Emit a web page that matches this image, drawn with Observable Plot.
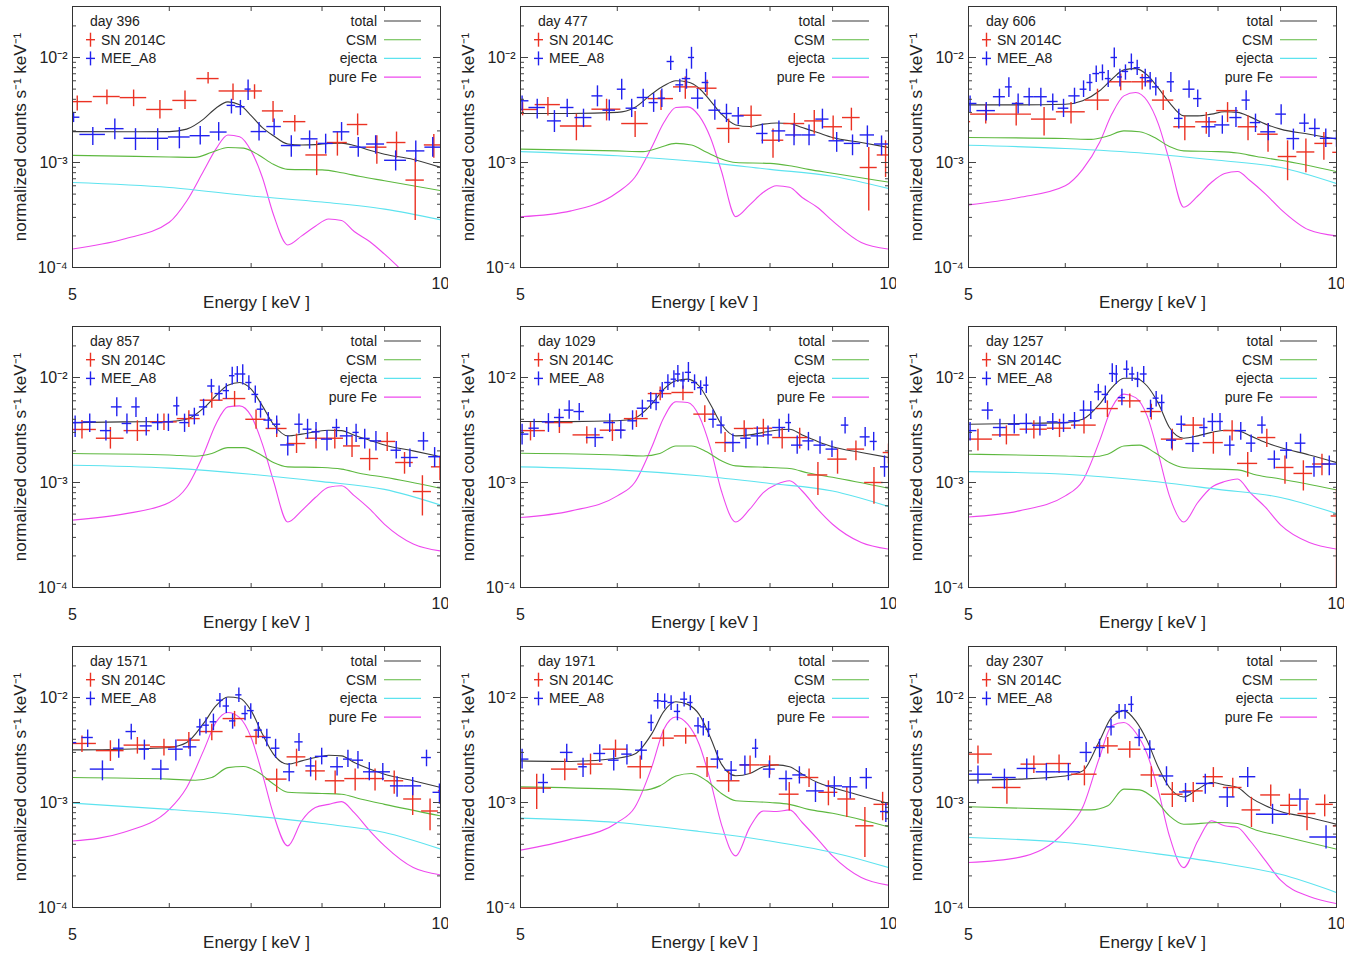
<!DOCTYPE html>
<html><head><meta charset="utf-8">
<script src="https://cdn.jsdelivr.net/npm/d3@7"></script>
<script src="https://cdn.jsdelivr.net/npm/@observablehq/plot@0.6"></script>
<style>
body{margin:0;background:#fff;font-family:"Liberation Sans",Arial,Helvetica,sans-serif;}
#grid{position:relative;width:1357px;height:955px;overflow:hidden;background:#fff;}
.panel{position:absolute;width:448px;height:320px;}
</style></head><body><div id="grid"></div>
<script>
// ---------- data ----------
const days = [396, 477, 606, 857, 1029, 1257, 1571, 1971, 2307];
const seriesNames = ["SN 2014C", "MEE_A8"];
const modelNames = ["total", "CSM", "ejecta", "pure Fe"];
const xTickValues = [6, 7, 8, 9];
const xTickLabels = [5, 10];
const yMajorTicks = [1e-4, 1e-3, 1e-2];
const yMinorTicks = [2e-4,3e-4,4e-4,5e-4,6e-4,7e-4,8e-4,9e-4,2e-3,3e-3,4e-3,5e-3,6e-3,7e-3,8e-3,9e-3,2e-2];
const xLabel = "Energy [ keV ]";
const yLabel = "normalized counts s\u207B\u00B9 keV\u207B\u00B9";

// model energy grids (keV)
const energyGrid = [5.0,5.5,6.0,6.2,6.4,6.55,6.7,6.85,7.0,7.15,7.3,7.5,7.7,7.9,8.1,8.3,8.5,8.75,9.0,9.5,10.0];
const csmGrid = [5,6,6.3,6.5,6.7,6.9,7.1,7.3,7.5,8,8.3,8.6,9,10];
const ejectaGrid = [5,6,7,8,9,10];

const totalModel = [
 [1.97e-3,1.96e-3,1.97e-3,2.08e-3,2.59e-3,3.29e-3,3.78e-3,3.54e-3,2.8e-3,2.15e-3,1.8e-3,1.5e-3,1.47e-3,1.48e-3,1.52e-3,1.53e-3,1.45e-3,1.31e-3,1.2e-3,1.07e-3,9.0e-4],
 [2.93e-3,2.93e-3,3.0e-3,3.34e-3,4.48e-3,5.37e-3,6.0e-3,5.85e-3,5.1e-3,3.87e-3,2.89e-3,2.28e-3,2.2e-3,2.32e-3,2.38e-3,2.35e-3,2.15e-3,1.93e-3,1.73e-3,1.55e-3,1.39e-3],
 [3.54e-3,3.54e-3,3.59e-3,3.87e-3,4.82e-3,6.21e-3,7.62e-3,7.84e-3,6.83e-3,5.1e-3,3.72e-3,2.78e-3,2.78e-3,2.89e-3,3.04e-3,3.0e-3,2.72e-3,2.32e-3,2.08e-3,1.86e-3,1.67e-3],
 [3.72e-3,3.78e-3,3.81e-3,4.0e-3,5.1e-3,6.7e-3,8.45e-3,8.96e-3,7.74e-3,5.37e-3,3.59e-3,2.78e-3,2.89e-3,3.04e-3,3.15e-3,3.12e-3,2.82e-3,2.53e-3,2.28e-3,2.0e-3,1.76e-3],
 [3.81e-3,3.8e-3,3.87e-3,4.1e-3,5.57e-3,7.74e-3,9.3e-3,9.64e-3,8.3e-3,5.57e-3,3.59e-3,2.78e-3,2.84e-3,3.0e-3,3.15e-3,3.22e-3,2.84e-3,2.46e-3,2.19e-3,1.93e-3,1.73e-3],
 [3.59e-3,3.65e-3,3.72e-3,4.0e-3,5.57e-3,8.0e-3,9.85e-3,9.85e-3,8.3e-3,5.66e-3,3.34e-3,2.64e-3,2.78e-3,3.0e-3,3.15e-3,3.12e-3,2.78e-3,2.4e-3,2.15e-3,1.83e-3,1.55e-3],
 [3.17e-3,3.22e-3,3.34e-3,3.72e-3,5.66e-3,8.3e-3,1.01e-2,9.85e-3,7.5e-3,4.48e-3,2.89e-3,2.32e-3,2.49e-3,2.68e-3,2.82e-3,2.78e-3,2.4e-3,2.08e-3,1.86e-3,1.61e-3,1.39e-3],
 [2.49e-3,2.46e-3,2.64e-3,2.89e-3,4.48e-3,7.37e-3,9.1e-3,8.6e-3,6.9e-3,4.16e-3,2.32e-3,1.8e-3,1.89e-3,2.19e-3,2.28e-3,2.19e-3,1.86e-3,1.55e-3,1.39e-3,1.16e-3,9.8e-4],
 [1.63e-3,1.67e-3,1.79e-3,2.0e-3,3.87e-3,6.53e-3,7.5e-3,5.99e-3,3.87e-3,2.15e-3,1.39e-3,1.13e-3,1.34e-3,1.55e-3,1.47e-3,1.39e-3,1.12e-3,9.3e-4,8.2e-4,7.2e-4,6.2e-4]
];
const feModel = [
 [1.5e-4,1.86e-4,2.7e-4,4.3e-4,8.3e-4,1.34e-3,1.83e-3,1.76e-3,1.29e-3,7.2e-4,3.2e-4,1.64e-4,2.0e-4,2.47e-4,2.9e-4,2.8e-4,2.2e-4,1.77e-4,1.34e-4,7.5e-5,4.8e-5],
 [3.04e-4,3.46e-4,5.18e-4,7.2e-4,1.39e-3,2.4e-3,3.34e-3,3.39e-3,2.78e-3,1.73e-3,8.3e-4,3.05e-4,3.95e-4,5.2e-4,6.0e-4,5.8e-4,4.64e-4,3.73e-4,2.78e-4,1.73e-4,1.5e-4],
 [3.95e-4,4.64e-4,6.0e-4,8.6e-4,1.55e-3,2.89e-3,4.31e-3,4.64e-3,3.87e-3,2.32e-3,1.04e-3,3.75e-4,4.8e-4,6.45e-4,7.85e-4,8.2e-4,6.7e-4,5.0e-4,3.6e-4,2.27e-4,2.0e-4],
 [4.38e-4,5.0e-4,6.45e-4,9.0e-4,1.86e-3,3.59e-3,5.25e-3,5.37e-3,4.31e-3,2.32e-3,1.04e-3,4.2e-4,5.4e-4,7.2e-4,9.0e-4,9.3e-4,7.5e-4,5.6e-4,4.0e-4,2.6e-4,2.23e-4],
 [4.64e-4,5.37e-4,7.46e-4,1.0e-3,2.15e-3,4.16e-3,5.87e-3,5.78e-3,4.31e-3,2.15e-3,8.3e-4,4.2e-4,5.57e-4,8.0e-4,9.6e-4,1.04e-3,8.3e-4,5.57e-4,4.0e-4,2.68e-4,2.32e-4],
 [4.7e-4,5.37e-4,7.46e-4,1.04e-3,2.49e-3,5.18e-3,6.95e-3,6.43e-3,4.31e-3,1.86e-3,7.46e-4,4.2e-4,6.45e-4,8.96e-4,1.02e-3,1.08e-3,8.0e-4,5.78e-4,3.95e-4,2.68e-4,2.32e-4],
 [4.3e-4,5.18e-4,8.6e-4,1.39e-3,3.12e-3,5.78e-3,7.2e-3,6.43e-3,4.16e-3,1.86e-3,7.74e-4,3.86e-4,6.7e-4,8.96e-4,9.6e-4,1.02e-3,8.0e-4,5.4e-4,3.86e-4,2.4e-4,2.05e-4],
 [3.52e-4,4.48e-4,6.45e-4,8.96e-4,2.15e-3,4.99e-3,6.53e-3,5.57e-3,3.59e-3,1.61e-3,6.2e-4,3.1e-4,5.8e-4,8.3e-4,8.2e-4,8.5e-4,6.45e-4,4.48e-4,3.1e-4,1.93e-4,1.63e-4],
 [2.68e-4,3.0e-4,5.37e-4,9.0e-4,2.7e-3,5.37e-3,5.78e-3,4.64e-3,2.89e-3,1.29e-3,4.8e-4,2.4e-4,4.3e-4,6.7e-4,6.0e-4,5.78e-4,4.3e-4,2.78e-4,1.82e-4,1.27e-4,1.09e-4]
];
const csmModel = [
 [1.17e-3,1.13e-3,1.12e-3,1.25e-3,1.39e-3,1.37e-3,1.18e-3,9.6e-4,8.6e-4,8.5e-4,8.0e-4,7.35e-4,6.7e-4,5.4e-4],
 [1.34e-3,1.29e-3,1.27e-3,1.39e-3,1.52e-3,1.47e-3,1.25e-3,1.08e-3,1.0e-3,9.8e-4,9.3e-4,8.6e-4,7.9e-4,6.5e-4],
 [1.73e-3,1.69e-3,1.66e-3,1.79e-3,2.0e-3,1.96e-3,1.73e-3,1.42e-3,1.29e-3,1.27e-3,1.23e-3,1.14e-3,1.05e-3,8.2e-4],
 [1.89e-3,1.83e-3,1.78e-3,1.89e-3,2.15e-3,2.15e-3,1.89e-3,1.55e-3,1.41e-3,1.39e-3,1.34e-3,1.22e-3,1.12e-3,8.8e-4],
 [1.9e-3,1.83e-3,1.79e-3,1.89e-3,2.23e-3,2.23e-3,1.96e-3,1.61e-3,1.44e-3,1.39e-3,1.36e-3,1.23e-3,1.12e-3,8.8e-4],
 [1.86e-3,1.79e-3,1.76e-3,1.86e-3,2.23e-3,2.27e-3,1.93e-3,1.55e-3,1.39e-3,1.34e-3,1.32e-3,1.18e-3,1.08e-3,8.5e-4],
 [1.73e-3,1.67e-3,1.63e-3,1.73e-3,2.15e-3,2.2e-3,1.93e-3,1.5e-3,1.25e-3,1.22e-3,1.2e-3,1.08e-3,9.6e-4,7.46e-4],
 [1.41e-3,1.34e-3,1.31e-3,1.44e-3,1.79e-3,1.89e-3,1.61e-3,1.22e-3,1.04e-3,1.0e-3,9.6e-4,8.6e-4,7.9e-4,5.86e-4],
 [9.1e-4,8.6e-4,8.5e-4,9.3e-4,1.34e-3,1.32e-3,1.08e-3,7.46e-4,6.2e-4,6.45e-4,6.3e-4,5.45e-4,4.82e-4,3.6e-4]
];
const ejectaModel = [
 [6.45e-4,5.78e-4,4.8e-4,4.2e-4,3.6e-4,2.85e-4],
 [1.27e-3,1.16e-3,1.02e-3,8.6e-4,7.4e-4,5.65e-4],
 [1.46e-3,1.36e-3,1.22e-3,1.05e-3,8.96e-4,6.3e-4],
 [1.46e-3,1.37e-3,1.2e-3,1.02e-3,8.6e-4,6.1e-4],
 [1.41e-3,1.32e-3,1.16e-3,9.8e-4,8.3e-4,5.9e-4],
 [1.27e-3,1.2e-3,1.04e-3,8.6e-4,7.2e-4,5.07e-4],
 [9.85e-4,8.6e-4,7.46e-4,6.3e-4,5.18e-4,3.6e-4],
 [7.1e-4,6.45e-4,5.3e-4,4.3e-4,3.34e-4,2.4e-4],
 [4.64e-4,4.16e-4,3.34e-4,2.68e-4,2.07e-4,1.39e-4]
];

// observed bins: [E low, E high, rate, rate low, rate high]
const snObs = [
 [[4.90,5.19,3.8e-3,3.1e-3,4.3e-3],[5.20,5.47,4.25e-3,3.55e-3,4.9e-3],[5.47,5.75,4.15e-3,3.4e-3,4.9e-3],[5.75,6.04,3.2e-3,2.6e-3,3.9e-3],[6.04,6.32,3.9e-3,3.2e-3,4.8e-3],[6.32,6.59,6.3e-3,5.6e-3,7.2e-3],[6.59,6.94,4.8e-3,3.9e-3,5.6e-3],[6.94,7.15,4.8e-3,4.0e-3,5.5e-3],[7.15,7.44,3.1e-3,2.4e-3,3.8e-3],[7.44,7.76,2.45e-3,1.95e-3,2.8e-3],[7.76,8.08,1.18e-3,7.5e-4,1.6e-3],[8.08,8.39,1.55e-3,1.15e-3,1.95e-3],[8.39,8.72,2.3e-3,1.8e-3,2.9e-3],[8.70,9.04,1.4e-3,9.6e-4,1.8e-3],[9.04,9.37,1.55e-3,1.1e-3,1.95e-3],[9.37,9.70,6.8e-4,2.8e-4,1.1e-3],[9.70,10.05,1.47e-3,1.1e-3,1.85e-3]],
 [[4.87,5.17,3.2e-3,2.78e-3,3.72e-3],[5.14,5.39,3.56e-3,2.78e-3,4.16e-3],[5.39,5.72,2.23e-3,1.61e-3,2.89e-3],[5.72,6.04,3.22e-3,2.49e-3,4.0e-3],[6.05,6.36,2.35e-3,1.73e-3,3.06e-3],[6.36,6.67,4.06e-3,3.12e-3,4.82e-3],[6.67,6.97,5.25e-3,4.0e-3,6.53e-3],[6.97,7.24,5.1e-3,4.31e-3,6.08e-3],[7.24,7.56,2.11e-3,1.52e-3,2.59e-3],[7.56,7.88,2.82e-3,2.12e-3,3.46e-3],[7.88,8.21,1.63e-3,1.1e-3,2.08e-3],[8.21,8.54,2.35e-3,1.73e-3,2.93e-3],[8.54,8.85,2.49e-3,1.86e-3,3.12e-3],[8.85,9.17,2.19e-3,1.63e-3,2.78e-3],[9.17,9.48,2.68e-3,2.0e-3,3.29e-3],[9.48,9.79,8.96e-4,3.46e-4,1.39e-3],[9.79,10.1,1.18e-3,7.2e-4,1.61e-3]],
 [[4.9,5.02,2.45e-3,2.1e-3,2.8e-3],[5.02,5.31,2.89e-3,2.32e-3,3.59e-3],[5.31,5.63,2.89e-3,2.23e-3,3.72e-3],[5.63,5.9,2.59e-3,1.79e-3,3.34e-3],[5.9,6.23,3.04e-3,2.32e-3,3.72e-3],[6.23,6.52,3.93e-3,3.12e-3,4.99e-3],[6.52,6.8,5.87e-3,4.82e-3,6.95e-3],[6.8,7.07,5.87e-3,4.9e-3,6.9e-3],[7.07,7.36,3.93e-3,3.12e-3,4.82e-3],[7.36,7.67,2.19e-3,1.61e-3,2.78e-3],[7.67,7.98,2.44e-3,1.86e-3,3.0e-3],[7.98,8.31,3.12e-3,2.4e-3,3.72e-3],[8.31,8.62,2.19e-3,1.61e-3,2.78e-3],[8.62,8.96,1.86e-3,1.25e-3,2.35e-3],[8.96,9.28,1.14e-3,6.7e-4,1.61e-3],[9.28,9.6,1.26e-3,8.0e-4,1.67e-3],[9.6,9.93,1.52e-3,1.05e-3,1.93e-3],[9.93,10.1,1.25e-3,1.1e-3,1.4e-3]],
 [[4.95,5.23,3.2e-3,2.6e-3,3.9e-3],[5.23,5.51,2.64e-3,2.08e-3,3.34e-3],[5.51,5.79,3.12e-3,2.46e-3,3.87e-3],[5.79,6.09,3.78e-3,3.12e-3,4.48e-3],[6.09,6.36,4.06e-3,3.34e-3,4.82e-3],[6.36,6.64,6.08e-3,5.1e-3,7.2e-3],[6.64,6.93,6.3e-3,5.25e-3,7.37e-3],[6.93,7.2,4.0e-3,3.22e-3,4.9e-3],[7.2,7.49,3.27e-3,2.68e-3,3.93e-3],[7.49,7.76,2.35e-3,1.89e-3,2.89e-3],[7.76,8.06,2.64e-3,2.08e-3,3.22e-3],[8.06,8.33,2.64e-3,2.08e-3,3.22e-3],[8.33,8.6,2.23e-3,1.73e-3,2.78e-3],[8.6,8.9,1.69e-3,1.29e-3,2.08e-3],[8.9,9.19,2.46e-3,1.97e-3,3.0e-3],[9.19,9.5,1.55e-3,1.2e-3,1.93e-3],[9.5,9.83,8.2e-4,4.8e-4,1.16e-3],[9.83,10.15,1.41e-3,1.04e-3,1.79e-3]],
 [[4.95,5.24,3.12e-3,2.49e-3,3.72e-3],[5.24,5.52,3.72e-3,2.93e-3,4.48e-3],[5.52,5.81,2.84e-3,2.32e-3,3.39e-3],[5.81,6.08,3.15e-3,2.46e-3,3.87e-3],[6.08,6.36,4.06e-3,3.34e-3,4.82e-3],[6.36,6.65,7.03e-3,6.0e-3,8.1e-3],[6.65,6.93,7.2e-3,6.0e-3,8.3e-3],[6.93,7.22,4.48e-3,3.72e-3,5.37e-3],[7.22,7.48,2.4e-3,1.93e-3,3.0e-3],[7.48,7.76,3.27e-3,2.64e-3,3.87e-3],[7.76,8.04,3.29e-3,2.68e-3,4.0e-3],[8.04,8.33,2.68e-3,2.08e-3,3.34e-3],[8.33,8.59,2.68e-3,2.08e-3,3.29e-3],[8.59,8.92,1.18e-3,7.5e-4,1.55e-3],[8.92,9.25,1.67e-3,1.2e-3,2.08e-3],[9.25,9.56,2.08e-3,1.61e-3,2.49e-3],[9.56,9.9,1.0e-3,6.2e-4,1.39e-3],[9.9,10.1,1.93e-3,1.5e-3,2.32e-3]],
 [[4.95,5.23,2.59e-3,2.0e-3,3.22e-3],[5.23,5.51,2.84e-3,2.28e-3,3.46e-3],[5.51,5.8,3.22e-3,2.59e-3,3.87e-3],[5.8,6.07,3.29e-3,2.68e-3,4.0e-3],[6.07,6.36,3.52e-3,2.89e-3,4.16e-3],[6.36,6.63,5.06e-3,4.16e-3,5.99e-3],[6.63,6.92,5.99e-3,5.1e-3,6.95e-3],[6.92,7.19,4.74e-3,3.93e-3,5.57e-3],[7.19,7.49,2.59e-3,2.0e-3,3.22e-3],[7.49,7.78,3.52e-3,2.78e-3,4.16e-3],[7.78,8.08,2.4e-3,1.86e-3,3.0e-3],[8.08,8.35,3.12e-3,2.49e-3,3.87e-3],[8.3,8.62,1.52e-3,1.12e-3,1.93e-3],[8.62,8.92,2.68e-3,2.15e-3,3.22e-3],[8.92,9.23,1.39e-3,9.6e-4,1.79e-3],[9.23,9.56,1.22e-3,8.3e-4,1.61e-3],[9.56,9.9,1.5e-3,1.16e-3,1.86e-3],[9.9,10.1,4.8e-4,5e-5,8.6e-4]],
 [[4.95,5.23,3.65e-3,3.0e-3,4.3e-3],[5.23,5.51,3.12e-3,2.46e-3,3.87e-3],[5.51,5.79,3.52e-3,2.89e-3,4.16e-3],[5.79,6.09,3.39e-3,2.78e-3,4.0e-3],[6.09,6.36,3.93e-3,3.22e-3,4.64e-3],[6.36,6.64,4.74e-3,3.87e-3,5.57e-3],[6.64,6.93,6.3e-3,5.25e-3,7.37e-3],[6.93,7.2,4.25e-3,3.54e-3,4.99e-3],[7.2,7.49,1.67e-3,1.25e-3,2.08e-3],[7.49,7.76,2.72e-3,2.19e-3,3.22e-3],[7.76,8.05,2.0e-3,1.61e-3,2.49e-3],[8.05,8.35,1.61e-3,1.2e-3,2.0e-3],[8.35,8.68,1.69e-3,1.29e-3,2.08e-3],[8.68,9.0,1.69e-3,1.29e-3,2.08e-3],[9.0,9.33,1.61e-3,1.2e-3,2.0e-3],[9.33,9.65,1.08e-3,7.5e-4,1.39e-3],[9.65,9.96,8.3e-4,5.37e-4,1.08e-3],[9.96,10.1,1.29e-3,1.0e-3,1.55e-3]],
 [[5.01,5.3,1.37e-3,8.6e-4,1.86e-3],[5.3,5.57,2.08e-3,1.61e-3,2.59e-3],[5.57,5.84,2.32e-3,1.83e-3,2.89e-3],[5.84,6.12,3.22e-3,2.68e-3,3.93e-3],[6.12,6.41,2.19e-3,1.67e-3,2.78e-3],[6.41,6.68,4.1e-3,3.39e-3,4.89e-3],[6.68,6.97,4.31e-3,3.59e-3,5.1e-3],[6.97,7.24,2.19e-3,1.73e-3,2.68e-3],[7.24,7.56,1.61e-3,1.25e-3,2.0e-3],[7.56,7.85,2.28e-3,1.86e-3,2.78e-3],[7.85,8.14,2.28e-3,1.83e-3,2.78e-3],[8.14,8.45,1.2e-3,8.3e-4,1.55e-3],[8.45,8.77,1.73e-3,1.39e-3,2.08e-3],[8.77,9.09,1.25e-3,9.3e-4,1.61e-3],[9.09,9.4,1.08e-3,7.2e-4,1.39e-3],[9.4,9.73,6.0e-4,3.0e-4,8.96e-4],[9.73,10.05,9.6e-4,6.7e-4,1.25e-3]],
 [[4.95,5.23,2.89e-3,2.32e-3,3.46e-3],[5.23,5.52,1.39e-3,9.6e-4,1.73e-3],[5.52,5.79,2.32e-3,1.89e-3,2.78e-3],[5.79,6.07,2.35e-3,1.89e-3,2.84e-3],[6.07,6.37,1.86e-3,1.44e-3,2.23e-3],[6.37,6.63,3.46e-3,2.89e-3,4.16e-3],[6.63,6.92,3.22e-3,2.64e-3,3.81e-3],[6.92,7.19,1.83e-3,1.39e-3,2.19e-3],[7.19,7.49,1.2e-3,8.96e-4,1.55e-3],[7.49,7.78,1.29e-3,1.0e-3,1.55e-3],[7.78,8.08,1.76e-3,1.39e-3,2.15e-3],[8.08,8.37,1.39e-3,1.12e-3,1.7e-3],[8.37,8.67,8.5e-4,5.78e-4,1.12e-3],[8.67,9.0,1.18e-3,9.1e-4,1.47e-3],[9.0,9.3,9.4e-4,7.5e-4,1.2e-3],[9.3,9.62,7.85e-4,5.37e-4,1.04e-3],[9.62,9.94,9.6e-4,7.3e-4,1.18e-3],[9.94,10.1,6.0e-4,5e-4,7e-4]]
];
const meeObs = [
 [[4.95,5.07,2.7e-3,2.4e-3,3.0e-3],[5.07,5.32,1.85e-3,1.45e-3,2.15e-3],[5.32,5.51,2.1e-3,1.65e-3,2.6e-3],[5.51,5.75,1.7e-3,1.3e-3,2.1e-3],[5.75,5.99,1.7e-3,1.3e-3,2.1e-3],[5.99,6.24,1.75e-3,1.35e-3,2.15e-3],[6.24,6.48,1.8e-3,1.47e-3,2.2e-3],[6.48,6.69,1.95e-3,1.6e-3,2.4e-3],[6.69,6.8,3.5e-3,2.9e-3,4.0e-3],[6.8,6.92,3.4e-3,2.8e-3,3.9e-3],[6.92,7.0,5.0e-3,3.9e-3,6.1e-3],[7.0,7.21,1.97e-3,1.6e-3,2.4e-3],[7.21,7.41,2.2e-3,1.8e-3,2.6e-3],[7.41,7.69,1.45e-3,1.12e-3,1.8e-3],[7.69,7.94,1.68e-3,1.34e-3,2.0e-3],[7.94,8.17,1.52e-3,1.2e-3,1.86e-3],[8.17,8.43,1.96e-3,1.6e-3,2.4e-3],[8.43,8.7,1.4e-3,1.12e-3,1.73e-3],[8.7,9.0,1.5e-3,1.2e-3,1.8e-3],[9.0,9.38,1.05e-3,8.3e-4,1.29e-3],[9.38,9.71,1.29e-3,1.0e-3,1.6e-3],[9.71,10.0,1.4e-3,1.12e-3,1.73e-3]],
 [[4.95,5.08,3.87e-3,3.1e-3,4.3e-3],[5.08,5.24,3.34e-3,2.59e-3,4.0e-3],[5.26,5.40,2.49e-3,1.93e-3,3.12e-3],[5.39,5.53,3.34e-3,2.68e-3,4.0e-3],[5.54,5.72,2.68e-3,2.15e-3,3.22e-3],[5.72,5.84,4.31e-3,3.39e-3,5.37e-3],[5.84,5.98,3.15e-3,2.49e-3,3.93e-3],[6.0,6.1,4.99e-3,3.93e-3,6.21e-3],[6.1,6.23,3.29e-3,2.68e-3,4.0e-3],[6.23,6.37,4.16e-3,3.34e-3,4.99e-3],[6.37,6.48,3.72e-3,3.0e-3,4.53e-3],[6.48,6.57,4.1e-3,3.34e-3,5.0e-3],[6.59,6.68,9.16e-3,7.5e-3,1.03e-2],[6.70,6.80,5.49e-3,4.64e-3,6.21e-3],[6.78,6.89,6.3e-3,4.99e-3,7.74e-3],[6.86,6.94,1.0e-2,7.74e-3,1.25e-2],[6.90,7.06,4.1e-3,3.22e-3,5.0e-3],[7.04,7.13,5.78e-3,4.64e-3,7.2e-3],[7.13,7.29,3.15e-3,2.53e-3,3.93e-3],[7.29,7.45,2.93e-3,2.4e-3,3.59e-3],[7.45,7.62,2.78e-3,2.28e-3,3.34e-3],[7.80,7.97,1.89e-3,1.5e-3,2.32e-3],[8.03,8.24,2.0e-3,1.55e-3,2.49e-3],[8.24,8.5,1.83e-3,1.44e-3,2.32e-3],[8.5,8.72,1.83e-3,1.44e-3,2.28e-3],[8.72,8.94,2.59e-3,2.08e-3,3.22e-3],[8.94,9.2,1.61e-3,1.25e-3,1.93e-3],[9.2,9.49,1.52e-3,1.16e-3,1.83e-3],[9.48,9.74,1.83e-3,1.39e-3,2.23e-3],[9.74,10.0,1.5e-3,1.16e-3,1.79e-3]],
 [[4.95,5.08,3.65e-3,3.0e-3,4.3e-3],[5.08,5.26,3.12e-3,2.49e-3,3.72e-3],[5.24,5.36,4.23e-3,3.39e-3,4.99e-3],[5.36,5.43,5.25e-3,4.16e-3,6.4e-3],[5.43,5.55,3.65e-3,2.89e-3,4.48e-3],[5.55,5.66,4.23e-3,3.46e-3,5.1e-3],[5.66,5.8,4.23e-3,3.39e-3,5.1e-3],[5.8,5.92,3.81e-3,3.1e-3,4.48e-3],[5.92,6.04,3.29e-3,2.68e-3,4.0e-3],[6.04,6.17,4.31e-3,3.59e-3,5.1e-3],[6.17,6.25,4.99e-3,4.16e-3,5.99e-3],[6.25,6.32,5.78e-3,4.74e-3,6.9e-3],[6.32,6.4,7.03e-3,5.78e-3,8.3e-3],[6.4,6.47,7.2e-3,6.0e-3,8.5e-3],[6.47,6.54,6.3e-3,5.18e-3,7.5e-3],[6.54,6.62,1.0e-2,8.0e-3,1.23e-2],[6.62,6.68,6.53e-3,5.25e-3,7.74e-3],[6.68,6.76,7.37e-3,6.08e-3,8.5e-3],[6.76,6.83,8.96e-3,7.5e-3,1.08e-2],[6.83,6.91,8.0e-3,6.75e-3,9.4e-3],[6.91,7.04,6.43e-3,5.25e-3,7.74e-3],[7.0,7.08,6.0e-3,4.9e-3,7.2e-3],[7.07,7.16,5.25e-3,4.31e-3,6.4e-3],[7.27,7.37,5.87e-3,4.64e-3,7.2e-3],[7.37,7.49,2.63e-3,2.08e-3,3.22e-3],[7.49,7.66,4.99e-3,4.1e-3,5.99e-3],[7.64,7.76,4.06e-3,3.34e-3,4.9e-3],[7.76,7.97,2.19e-3,1.73e-3,2.68e-3],[7.95,8.18,2.28e-3,1.86e-3,2.78e-3],[8.18,8.37,2.68e-3,2.15e-3,3.34e-3],[8.37,8.5,3.93e-3,3.12e-3,4.82e-3],[8.5,8.67,2.4e-3,1.93e-3,2.89e-3],[8.67,8.92,1.96e-3,1.61e-3,2.35e-3],[8.92,9.1,2.89e-3,2.28e-3,3.54e-3],[9.11,9.33,1.69e-3,1.31e-3,2.08e-3],[9.33,9.5,2.37e-3,1.93e-3,2.89e-3],[9.5,9.7,2.11e-3,1.73e-3,2.59e-3],[9.7,9.9,1.7e-3,1.39e-3,2.08e-3],[9.9,10.1,1.7e-3,1.4e-3,2.0e-3]],
 [[4.95,5.1,3.72e-3,2.68e-3,4.3e-3],[5.1,5.23,3.78e-3,3.0e-3,4.48e-3],[5.27,5.38,3.12e-3,2.49e-3,3.87e-3],[5.38,5.49,5.25e-3,4.23e-3,6.4e-3],[5.49,5.59,3.65e-3,2.89e-3,4.48e-3],[5.59,5.68,5.25e-3,4.16e-3,6.4e-3],[5.68,5.81,3.46e-3,2.78e-3,4.16e-3],[5.81,5.93,3.72e-3,3.12e-3,4.48e-3],[5.93,6.05,3.78e-3,3.06e-3,4.48e-3],[6.05,6.12,5.37e-3,4.31e-3,6.5e-3],[6.12,6.23,3.72e-3,3.0e-3,4.48e-3],[6.23,6.35,4.38e-3,3.54e-3,5.1e-3],[6.35,6.45,5.25e-3,4.31e-3,6.2e-3],[6.45,6.54,8.3e-3,7.1e-3,9.6e-3],[6.54,6.64,7.03e-3,5.99e-3,8.3e-3],[6.64,6.72,7.5e-3,6.2e-3,8.7e-3],[6.72,6.79,1.04e-2,8.5e-3,1.25e-2],[6.79,6.85,1.08e-2,8.96e-3,1.27e-2],[6.85,6.93,1.08e-2,8.5e-3,1.32e-2],[6.93,7.01,8.96e-3,7.5e-3,1.04e-2],[7.01,7.1,6.9e-3,5.7e-3,8.3e-3],[7.08,7.17,4.99e-3,4.1e-3,5.87e-3],[7.17,7.29,3.93e-3,3.22e-3,4.64e-3],[7.29,7.4,3.59e-3,2.89e-3,4.3e-3],[7.4,7.6,2.28e-3,1.79e-3,2.78e-3],[7.6,7.72,3.59e-3,2.89e-3,4.48e-3],[7.72,7.85,3.22e-3,2.59e-3,4.0e-3],[7.85,7.97,3.04e-3,2.49e-3,3.72e-3],[7.99,8.16,2.59e-3,2.0e-3,3.12e-3],[8.16,8.28,3.34e-3,2.68e-3,4.0e-3],[8.28,8.48,2.78e-3,2.23e-3,3.34e-3],[8.48,8.58,3.0e-3,2.4e-3,3.59e-3],[8.58,8.76,2.63e-3,2.08e-3,3.22e-3],[8.76,8.95,2.49e-3,2.0e-3,3.06e-3],[9.11,9.29,2.03e-3,1.67e-3,2.46e-3],[9.29,9.59,1.73e-3,1.39e-3,2.08e-3],[9.59,9.78,2.49e-3,2.0e-3,3.0e-3],[9.78,10.0,1.76e-3,1.39e-3,2.15e-3]],
 [[4.95,5.08,2.89e-3,2.28e-3,3.59e-3],[5.08,5.18,3.29e-3,2.68e-3,4.0e-3],[5.21,5.33,3.78e-3,3.0e-3,4.53e-3],[5.33,5.43,4.16e-3,3.34e-3,4.99e-3],[5.43,5.53,4.89e-3,4.0e-3,6.0e-3],[5.53,5.64,4.74e-3,3.87e-3,5.66e-3],[5.66,5.85,2.68e-3,2.15e-3,3.29e-3],[5.85,5.98,3.72e-3,3.0e-3,4.48e-3],[5.98,6.1,3.15e-3,2.59e-3,3.87e-3],[6.12,6.23,3.87e-3,3.15e-3,4.82e-3],[6.23,6.35,5.1e-3,4.16e-3,6.08e-3],[6.35,6.43,5.99e-3,4.99e-3,7.2e-3],[6.41,6.5,5.78e-3,4.82e-3,6.95e-3],[6.5,6.56,7.5e-3,6.36e-3,8.96e-3],[6.56,6.64,8.96e-3,7.5e-3,1.06e-2],[6.64,6.71,9.64e-3,8.0e-3,1.16e-2],[6.69,6.76,1.08e-2,8.96e-3,1.3e-2],[6.76,6.82,9.3e-3,7.74e-3,1.12e-2],[6.82,6.9,1.12e-2,8.96e-3,1.39e-2],[6.9,6.98,8.96e-3,7.5e-3,1.06e-2],[6.98,7.06,8.0e-3,6.75e-3,9.3e-3],[7.06,7.13,8.45e-3,7.03e-3,1.01e-2],[7.13,7.24,4.0e-3,3.29e-3,4.9e-3],[7.24,7.35,3.52e-3,2.89e-3,4.23e-3],[7.35,7.57,2.4e-3,1.93e-3,2.89e-3],[7.57,7.72,2.64e-3,2.08e-3,3.22e-3],[7.72,7.9,2.78e-3,2.23e-3,3.39e-3],[7.9,8.04,2.84e-3,2.28e-3,3.46e-3],[8.04,8.24,3.34e-3,2.68e-3,4.0e-3],[8.24,8.33,3.72e-3,3.0e-3,4.48e-3],[8.33,8.51,2.27e-3,1.86e-3,2.78e-3],[8.51,8.69,2.49e-3,2.0e-3,3.0e-3],[8.69,8.89,2.27e-3,1.86e-3,2.72e-3],[8.89,9.09,2.08e-3,1.73e-3,2.49e-3],[9.15,9.28,3.52e-3,2.89e-3,4.16e-3],[9.48,9.66,2.72e-3,2.19e-3,3.34e-3],[9.66,9.79,2.46e-3,2.0e-3,3.0e-3],[9.85,10.0,1.41e-3,1.12e-3,1.79e-3]],
 [[4.95,5.08,3.12e-3,2.49e-3,3.72e-3],[5.13,5.24,4.89e-3,3.93e-3,5.78e-3],[5.24,5.37,3.34e-3,2.68e-3,4.0e-3],[5.39,5.51,3.59e-3,2.89e-3,4.41e-3],[5.51,5.64,3.65e-3,2.89e-3,4.48e-3],[5.64,5.8,3.52e-3,2.78e-3,4.23e-3],[5.8,5.92,3.78e-3,3.12e-3,4.53e-3],[5.92,6.04,3.72e-3,3.0e-3,4.48e-3],[6.04,6.17,3.87e-3,3.22e-3,4.64e-3],[6.17,6.25,4.89e-3,3.93e-3,5.99e-3],[6.25,6.34,4.89e-3,3.99e-3,5.9e-3],[6.34,6.43,7.3e-3,6.0e-3,8.6e-3],[6.43,6.51,6.9e-3,5.66e-3,8.3e-3],[6.52,6.59,1.09e-2,8.96e-3,1.35e-2],[6.58,6.63,1.08e-2,8.6e-3,1.3e-2],[6.63,6.72,6.43e-3,5.37e-3,7.74e-3],[6.7,6.77,1.2e-2,9.85e-3,1.44e-2],[6.77,6.84,1.08e-2,9.16e-3,1.25e-2],[6.84,6.91,9.64e-3,8.0e-3,1.12e-2],[6.91,7.0,1.08e-2,8.96e-3,1.27e-2],[7.0,7.09,5.06e-3,4.16e-3,6.08e-3],[7.08,7.16,6.36e-3,5.25e-3,7.37e-3],[7.15,7.24,5.78e-3,4.74e-3,6.83e-3],[7.26,7.4,2.53e-3,2.08e-3,3.12e-3],[7.4,7.53,3.59e-3,3.0e-3,4.3e-3],[7.53,7.73,2.35e-3,1.93e-3,2.78e-3],[7.73,7.85,3.34e-3,2.68e-3,4.1e-3],[7.85,7.98,3.81e-3,3.06e-3,4.53e-3],[7.98,8.08,3.81e-3,3.12e-3,4.53e-3],[8.1,8.26,2.27e-3,1.79e-3,2.78e-3],[8.26,8.44,3.12e-3,2.53e-3,3.72e-3],[8.44,8.59,2.37e-3,1.93e-3,2.84e-3],[8.62,8.76,3.52e-3,2.89e-3,4.23e-3],[8.79,9.0,1.67e-3,1.34e-3,2.0e-3],[9.0,9.2,2.03e-3,1.67e-3,2.4e-3],[9.25,9.44,2.37e-3,1.93e-3,2.89e-3],[9.44,9.73,1.41e-3,1.12e-3,1.73e-3],[9.73,10.0,1.5e-3,1.16e-3,1.79e-3]],
 [[4.95,5.04,3.72e-3,3.0e-3,4.3e-3],[5.09,5.2,4.16e-3,3.34e-3,4.9e-3],[5.17,5.41,2.08e-3,1.61e-3,2.49e-3],[5.4,5.51,3.29e-3,2.64e-3,4.0e-3],[5.53,5.64,4.74e-3,3.93e-3,5.57e-3],[5.67,5.78,3.22e-3,2.53e-3,3.93e-3],[5.81,6.0,2.08e-3,1.63e-3,2.53e-3],[5.99,6.16,3.22e-3,2.49e-3,3.93e-3],[6.16,6.32,3.39e-3,2.72e-3,4.1e-3],[6.32,6.39,5.25e-3,4.31e-3,6.21e-3],[6.39,6.47,5.45e-3,4.48e-3,6.43e-3],[6.48,6.56,5.87e-3,4.82e-3,6.95e-3],[6.56,6.64,9.43e-3,8.0e-3,1.09e-2],[6.64,6.72,8.3e-3,7.03e-3,9.85e-3],[6.72,6.8,5.99e-3,4.99e-3,6.95e-3],[6.8,6.88,1.06e-2,8.96e-3,1.23e-2],[6.88,6.96,7.03e-3,5.99e-3,8.3e-3],[6.95,7.04,7.5e-3,6.21e-3,8.7e-3],[7.04,7.15,4.89e-3,4.1e-3,5.78e-3],[7.15,7.27,4.16e-3,3.39e-3,4.99e-3],[7.27,7.39,3.29e-3,2.64e-3,4.0e-3],[7.44,7.6,1.96e-3,1.58e-3,2.35e-3],[7.6,7.72,3.78e-3,3.06e-3,4.53e-3],[7.76,7.9,2.23e-3,1.75e-3,2.68e-3],[7.9,8.09,2.75e-3,2.28e-3,3.29e-3],[8.13,8.33,2.19e-3,1.79e-3,2.68e-3],[8.33,8.47,2.59e-3,2.15e-3,3.15e-3],[8.47,8.65,2.53e-3,2.08e-3,3.06e-3],[8.65,8.84,1.96e-3,1.61e-3,2.4e-3],[8.84,9.1,1.96e-3,1.61e-3,2.35e-3],[9.1,9.33,1.44e-3,1.12e-3,1.76e-3],[9.33,9.65,1.44e-3,1.16e-3,1.73e-3],[9.65,9.83,2.68e-3,2.19e-3,3.15e-3],[9.86,10.1,1.25e-3,9.6e-4,1.5e-3]],
 [[4.95,5.08,2.59e-3,2.08e-3,3.22e-3],[5.17,5.27,1.55e-3,1.22e-3,1.86e-3],[5.39,5.52,3.0e-3,2.4e-3,3.59e-3],[5.58,5.67,2.19e-3,1.73e-3,2.64e-3],[5.74,5.87,2.93e-3,2.4e-3,3.54e-3],[5.9,6.02,2.53e-3,2.0e-3,3.12e-3],[6.05,6.17,2.89e-3,2.28e-3,3.54e-3],[6.21,6.35,3.15e-3,2.53e-3,3.81e-3],[6.36,6.43,5.78e-3,4.74e-3,6.83e-3],[6.43,6.52,9.3e-3,7.74e-3,1.09e-2],[6.52,6.6,9.2e-3,7.74e-3,1.08e-2],[6.6,6.68,8.96e-3,7.5e-3,1.04e-2],[6.68,6.76,7.37e-3,6.0e-3,8.6e-3],[6.76,6.85,9.64e-3,8.1e-3,1.12e-2],[6.85,6.92,8.96e-3,7.5e-3,1.04e-2],[6.94,7.03,5.37e-3,4.48e-3,6.43e-3],[7.02,7.09,5.25e-3,4.31e-3,6.3e-3],[7.09,7.16,4.99e-3,4.16e-3,5.9e-3],[7.16,7.33,2.59e-3,2.08e-3,3.12e-3],[7.35,7.52,2.03e-3,1.61e-3,2.46e-3],[7.56,7.7,2.28e-3,1.83e-3,2.78e-3],[7.74,7.83,3.29e-3,2.64e-3,4.0e-3],[7.9,8.08,2.08e-3,1.7e-3,2.49e-3],[8.14,8.35,1.69e-3,1.29e-3,2.0e-3],[8.35,8.56,1.83e-3,1.5e-3,2.19e-3],[8.57,8.86,1.29e-3,1.0e-3,1.55e-3],[8.89,9.17,1.44e-3,1.12e-3,1.76e-3],[9.17,9.44,1.41e-3,1.08e-3,1.73e-3],[9.48,9.7,1.73e-3,1.34e-3,2.11e-3],[9.85,10.05,8.2e-4,6.45e-4,1.0e-3]],
 [[4.95,5.23,1.86e-3,1.5e-3,2.23e-3],[5.23,5.47,1.73e-3,1.34e-3,2.08e-3],[5.48,5.68,2.11e-3,1.67e-3,2.59e-3],[5.68,5.9,1.96e-3,1.61e-3,2.35e-3],[5.9,6.17,1.96e-3,1.61e-3,2.35e-3],[6.17,6.31,3.0e-3,2.4e-3,3.72e-3],[6.33,6.47,3.34e-3,2.68e-3,4.0e-3],[6.49,6.59,5.25e-3,4.31e-3,6.21e-3],[6.6,6.68,7.37e-3,6.21e-3,8.6e-3],[6.67,6.76,7.5e-3,6.21e-3,8.6e-3],[6.76,6.83,8.6e-3,7.2e-3,1.02e-2],[6.84,6.95,4.16e-3,3.39e-3,4.99e-3],[6.96,7.11,3.22e-3,2.59e-3,3.87e-3],[7.16,7.36,1.79e-3,1.44e-3,2.19e-3],[7.44,7.61,1.26e-3,1.0e-3,1.52e-3],[7.68,7.94,1.52e-3,1.2e-3,1.86e-3],[8.02,8.26,1.13e-3,8.96e-4,1.39e-3],[8.33,8.59,1.76e-3,1.39e-3,2.15e-3],[8.6,9.13,7.74e-4,6.2e-4,9.6e-4],[9.17,9.5,1.08e-3,8.3e-4,1.34e-3],[9.51,10.1,4.7e-4,3.6e-4,6.0e-4]]
];

// ---------- styles ----------
const C = {sn:"#eb3223", mee:"#2121ef", total:"#3a3a3a", csm:"#5db83f", ejecta:"#5de3ef", fe:"#ee48ee"};
const modelColors = [C.total, C.csm, C.ejecta, C.fe];
const font = '"Liberation Sans", Arial, Helvetica, sans-serif';
const W = 448, H = 320, M = {l:72, r:8, t:6, b:53};
const yTop = 0.0306;

const supMap = {"-":"\u207B","0":"\u2070","1":"\u00B9","2":"\u00B2","3":"\u00B3","4":"\u2074","5":"\u2075","6":"\u2076","7":"\u2077","8":"\u2078","9":"\u2079"};
const sup = n => String(n).split("").map(c => supMap[c]).join("");
const toObs = arr => arr.map(d => ({x1:d[0], x2:d[1], xc:(d[0]+d[1])/2, y:d[2], y1:d[3], y2:d[4]}));
const toLine = (grid, vals) => grid.map((x, j) => ({x, y: vals[j]}));

function makePanel(i) {
  const sn = toObs(snObs[i]), mee = toObs(meeObs[i]);
  const lineOpts = stroke => ({x:"x", y:"y", stroke, strokeWidth:1.1, curve:"monotone-x", clip:true});
  const errH = (data, stroke) => Plot.ruleY(data, {y:"y", x1:"x1", x2:"x2", stroke, strokeWidth:1.4, clip:true});
  const errV = (data, stroke) => Plot.ruleX(data, {x:"xc", y1:"y1", y2:"y2", stroke, strokeWidth:1.4, clip:true});
  const tickStroke = "#444";
  const svg = Plot.plot({
    width: W, height: H,
    marginLeft: M.l, marginRight: M.r, marginTop: M.t, marginBottom: M.b,
    style: {fontFamily: font, background: "transparent", color: "#222"},
    x: {type: "log", domain: [5, 10], label: null},
    y: {type: "log", domain: [1e-4, yTop], label: null},
    marks: [
      Plot.line(toLine(energyGrid, feModel[i]), lineOpts(C.fe)),
      Plot.line(toLine(ejectaGrid, ejectaModel[i]), lineOpts(C.ejecta)),
      Plot.line(toLine(csmGrid, csmModel[i]), lineOpts(C.csm)),
      Plot.line(toLine(energyGrid, totalModel[i]), lineOpts(C.total)),
      errH(sn, C.sn), errV(sn, C.sn),
      errH(mee, C.mee), errV(mee, C.mee),
      Plot.axisY(yMajorTicks, {anchor: "left", tickSize: -8, fill: "none", stroke: tickStroke, label: null}),
      Plot.axisY(yMajorTicks, {anchor: "right", tickSize: -8, fill: "none", stroke: tickStroke, label: null}),
      Plot.axisY(yMinorTicks, {anchor: "left", tickSize: -4, fill: "none", stroke: tickStroke, label: null}),
      Plot.axisY(yMinorTicks, {anchor: "right", tickSize: -4, fill: "none", stroke: tickStroke, label: null}),
      Plot.axisY(yMajorTicks, {anchor: "left", tickSize: 0, tickPadding: 5, label: null, fontSize: 16,
        tickFormat: d => "10" + sup(Math.round(Math.log10(d)))}),
      Plot.axisX(xTickValues, {anchor: "bottom", tickSize: -4, fill: "none", stroke: tickStroke, label: null}),
      Plot.axisX(xTickValues, {anchor: "top", tickSize: -4, fill: "none", stroke: tickStroke, label: null}),
      Plot.text([xTickLabels[0]], {x: d => d, text: d => String(d), frameAnchor: "bottom", lineAnchor: "middle", dy: 27, fontSize: 16, fill: "#222"}),
      Plot.text([xTickLabels[1]], {x: d => d, text: d => String(d), frameAnchor: "bottom", lineAnchor: "middle", dy: 16, fontSize: 16, fill: "#222"}),
      Plot.text([xLabel], {text: d => d, frameAnchor: "bottom", lineAnchor: "middle", dy: 35, fontSize: 17, fill: "#222"}),
      Plot.text([yLabel], {text: d => d, frameAnchor: "left", textAnchor: "middle", lineAnchor: "middle", dx: -52, rotate: -90, fontSize: 17, fill: "#222"}),
      Plot.frame({stroke: "#333"})
    ]
  });

  // legend (decoration inside the frame)
  const s = d3.select(svg);
  const g = s.append("g").attr("font-family", font).attr("font-size", 14).attr("fill", "#222").attr("text-anchor", "start");
  const x0 = M.l, x1 = W - M.r;
  const rowY = k => M.t + 15 + k * 18.7;
  g.append("text").attr("x", x0 + 18).attr("y", rowY(0)).attr("dy", "0.35em").attr("text-anchor", "start").text("day " + days[i]);
  [[seriesNames[0], C.sn], [seriesNames[1], C.mee]].forEach(([name, col], k) => {
    const cy = rowY(k + 1), cx = x0 + 18.5;
    g.append("line").attr("x1", cx - 4.5).attr("x2", cx + 4.5).attr("y1", cy).attr("y2", cy).attr("stroke", col).attr("stroke-width", 1.4);
    g.append("line").attr("x1", cx).attr("x2", cx).attr("y1", cy - 7).attr("y2", cy + 7).attr("stroke", col).attr("stroke-width", 1.4);
    g.append("text").attr("x", x0 + 29).attr("y", cy).attr("dy", "0.35em").attr("text-anchor", "start").text(name);
  });
  modelNames.forEach((name, k) => {
    const cy = rowY(k);
    g.append("text").attr("x", x1 - 63).attr("y", cy).attr("dy", "0.35em").attr("text-anchor", "end").text(name);
    g.append("line").attr("x1", x1 - 56).attr("x2", x1 - 19).attr("y1", cy).attr("y2", cy).attr("stroke", modelColors[k]).attr("stroke-width", 1.1);
  });
  return svg;
}

const grid = document.getElementById("grid");
days.forEach((d, i) => {
  const div = document.createElement("div");
  div.className = "panel";
  div.style.left = (i % 3) * W + "px";
  div.style.top = Math.floor(i / 3) * H + "px";
  div.appendChild(makePanel(i));
  grid.appendChild(div);
});
</script></body></html>
